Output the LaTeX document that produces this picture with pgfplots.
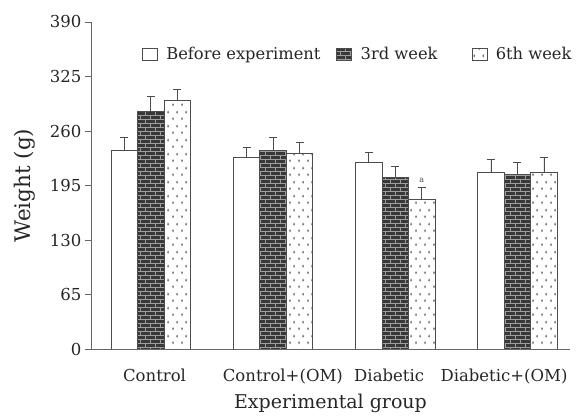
\documentclass[border=0pt]{standalone}
\usepackage{pgfplots}
\pgfplotsset{compat=1.18}
\usepackage{fontspec}
\setmainfont{DejaVu Serif}
\usetikzlibrary{patterns}
\pgfdeclarepatternformonly{smallbricks}{\pgfqpoint{-0.5pt}{-0.5pt}}{\pgfqpoint{10.5pt}{8.5pt}}{\pgfqpoint{10pt}{8pt}}{
  \pgfsetlinewidth{1pt}
  \pgfpathmoveto{\pgfqpoint{0pt}{0pt}}\pgfpathlineto{\pgfqpoint{10pt}{0pt}}
  \pgfpathmoveto{\pgfqpoint{0pt}{4pt}}\pgfpathlineto{\pgfqpoint{10pt}{4pt}}
  \pgfpathmoveto{\pgfqpoint{0pt}{0pt}}\pgfpathlineto{\pgfqpoint{0pt}{4pt}}
  \pgfpathmoveto{\pgfqpoint{5pt}{4pt}}\pgfpathlineto{\pgfqpoint{5pt}{8pt}}
  \pgfusepath{stroke}}
\pgfdeclarepatternformonly{ovaldots}{\pgfqpoint{0pt}{0pt}}{\pgfqpoint{9pt}{14pt}}{\pgfqpoint{9pt}{14pt}}{
  \pgfpathellipse{\pgfqpoint{2.25pt}{3.5pt}}{\pgfqpoint{1pt}{0pt}}{\pgfqpoint{0pt}{1.7pt}}
  \pgfpathellipse{\pgfqpoint{6.75pt}{10.5pt}}{\pgfqpoint{1pt}{0pt}}{\pgfqpoint{0pt}{1.7pt}}
  \pgfusepath{fill}}
\begin{document}
\begin{tikzpicture}
\begin{axis}[
  scale only axis, width=479pt, height=327pt,
  ymin=0, ymax=390, ytick={0,65,130,195,260,325,390},
  xmin=-0.49, xmax=3.43,
  xtick={0.03,1.08,1.95,2.89}, xticklabels={Control,Control+(OM),Diabetic,Diabetic+(OM)},
  axis lines*=left,
  axis line style={black!60, line width=0.9pt},
  x tick style={draw=none},
  y tick style={black!60, line width=0.9pt},
  tick align=outside, major tick length=6pt,
  yticklabel style={font=\fontsize{16.5}{19}\selectfont, text=black!85},
  xticklabel style={font=\fontsize{16.5}{19}\selectfont, text=black!85, yshift=-10pt},
  /pgf/number format/assume math mode=true,
  xlabel={Experimental group}, ylabel={Weight (g)},
  xlabel style={font=\fontsize{19}{22}\selectfont, text=black!85, yshift=-4pt},
  ylabel style={font=\fontsize{21.5}{24}\selectfont, text=black!85, yshift=8pt},
  ybar=0pt, bar width=26.5pt,
  legend columns=3,
  legend style={draw=none, fill=none, at={(0.100,0.902)}, anchor=west,
    font=\fontsize{16.3}{19}\selectfont, text=black!85,
    /tikz/every odd column/.append style={column sep=6.5pt},
    /tikz/column 2/.style={column sep=14pt},
    /tikz/column 4/.style={column sep=32pt}},
  legend image code/.code={\draw[#1, line width=0.7pt] (0pt,-6pt) rectangle (15pt,6pt);},
  error bars/y dir=plus, error bars/y explicit,
  error bars/error bar style={black!70, line width=0.9pt},
  error bars/error mark options={rotate=90, mark size=4pt, black!70, line width=0.9pt},
]
\addplot[draw=black!70, line width=0.8pt, fill=white] coordinates {
  (0,237) +- (0,15) (1,228) +- (0,12) (2,223) +- (0,12) (3,211) +- (0,15)};
\addplot[draw=black!70, line width=0.8pt, fill=black!78, postaction={pattern=smallbricks, pattern color=black!38}] coordinates {
  (0,283) +- (0,18) (1,237) +- (0,15) (2,205) +- (0,13) (3,208) +- (0,15)};
\addplot[draw=black!70, line width=0.8pt, fill=white, postaction={pattern=ovaldots, pattern color=black!55}] coordinates {
  (0,296) +- (0,13) (1,233) +- (0,13) (2,178) +- (0,15) (3,211) +- (0,17)};
\legend{Before experiment, 3rd week, 6th week}
\node[font=\fontsize{8}{9}\selectfont, text=black!70, inner sep=0pt] at (axis cs:2,201) [xshift=26.5pt] {a};
\coordinate (O) at (rel axis cs:0,0);
\coordinate (T) at (rel axis cs:1,1);
\end{axis}
\pgfresetboundingbox
\path ([shift={(-91pt,-67pt)}]O) rectangle ([shift={(7pt,22pt)}]T);
\end{tikzpicture}
\end{document}
